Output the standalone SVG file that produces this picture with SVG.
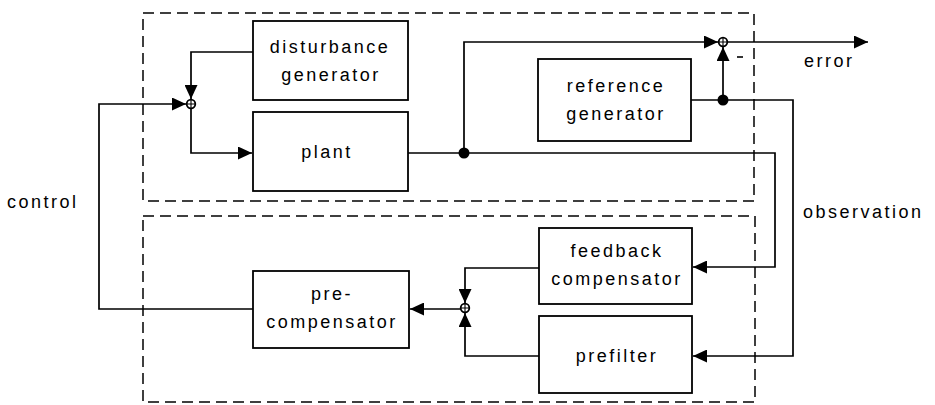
<svg xmlns="http://www.w3.org/2000/svg" width="935" height="405" viewBox="0 0 935 405">
<defs>
<style>
.box{fill:none;stroke:#000;stroke-width:1.8}
.dash{fill:none;stroke:#000;stroke-width:1.5;stroke-dasharray:11 6}
.wire{fill:none;stroke:#000;stroke-width:1.7}
.lbl{font-family:"Liberation Sans",Arial,sans-serif;font-size:18px;letter-spacing:2.5px;fill:#000;text-anchor:middle}
.sl{font-family:"Liberation Sans",Arial,sans-serif;font-size:18px;letter-spacing:2.5px;fill:#000}
.sum{fill:#fff;stroke:#000;stroke-width:1.8}
</style>
<marker id="arr" markerUnits="userSpaceOnUse" markerWidth="15" markerHeight="13" refX="14" refY="6.5" orient="auto">
<path d="M0,0 L14,6.5 L0,13 Z" fill="#000"/>
</marker>
</defs>
<rect width="935" height="405" fill="#fff"/>
<g id="subsystems">
<rect class="dash" x="143" y="13" width="611" height="188"/>
<rect class="dash" x="143" y="216" width="612" height="186"/>
</g>
<g id="connectors">
<polyline class="wire" points="253,309 99,309 99,104 186,104" marker-end="url(#arr)"/>
<polyline class="wire" points="253,52 191,52 191,99" marker-end="url(#arr)"/>
<polyline class="wire" points="191,108 191,153 252,153" marker-end="url(#arr)"/>
<polyline class="wire" points="408,153 775,153 775,267 693,267" marker-end="url(#arr)"/>
<polyline class="wire" points="464,153 464,42 718,42" marker-end="url(#arr)"/>
<polyline class="wire" points="727,42 868,42" marker-end="url(#arr)"/>
<polyline class="wire" points="691,100 793,100 793,356 693,356" marker-end="url(#arr)"/>
<polyline class="wire" points="723,100 723,47" marker-end="url(#arr)"/>
<polyline class="wire" points="539,268 465,268 465,303" marker-end="url(#arr)"/>
<polyline class="wire" points="539,356 465,356 465,313" marker-end="url(#arr)"/>
<polyline class="wire" points="461,309 410,309" marker-end="url(#arr)"/>
<circle cx="464" cy="153" r="5.5" fill="#000"/>
<circle cx="723" cy="100" r="5.5" fill="#000"/>
<line x1="737" y1="57" x2="743" y2="57" stroke="#000" stroke-width="1.6"/>
</g>
<g id="sum1">
<circle class="sum" cx="191" cy="104" r="4.3"/>
<path d="M187,104 H195 M191,100 V108" stroke="#000" stroke-width="1.1"/>
</g>
<g id="sum2">
<circle class="sum" cx="723" cy="42" r="4.3"/>
<path d="M719,42 H727 M723,38 V46" stroke="#000" stroke-width="1.1"/>
</g>
<g id="sum3">
<circle class="sum" cx="465" cy="308" r="4.3"/>
<path d="M461,308 H469 M465,304 V312" stroke="#000" stroke-width="1.1"/>
</g>
<g id="disturbance-generator">
<rect class="box" x="253" y="21" width="155" height="79"/>
<text class="lbl" x="330" y="53">disturbance</text>
<text class="lbl" x="331" y="81">generator</text>
</g>
<g id="plant">
<rect class="box" x="253" y="112" width="155" height="79"/>
<text class="lbl" x="327" y="158">plant</text>
</g>
<g id="reference-generator">
<rect class="box" x="538" y="59" width="153" height="82"/>
<text class="lbl" x="616" y="92">reference</text>
<text class="lbl" x="616" y="120">generator</text>
</g>
<g id="feedback-compensator">
<rect class="box" x="539" y="228" width="153" height="76"/>
<text class="lbl" x="617" y="257">feedback</text>
<text class="lbl" x="617" y="285">compensator</text>
</g>
<g id="prefilter">
<rect class="box" x="539" y="316" width="153" height="77"/>
<text class="lbl" x="617" y="362">prefilter</text>
</g>
<g id="pre-compensator">
<rect class="box" x="253" y="271" width="156" height="77"/>
<text class="lbl" x="332" y="300">pre-</text>
<text class="lbl" x="332" y="328">compensator</text>
</g>
<g id="labels">
<text class="sl" x="7" y="208">control</text>
<text class="sl" x="804" y="67">error</text>
<text class="sl" x="803" y="218">observation</text>
</g>
</svg>
